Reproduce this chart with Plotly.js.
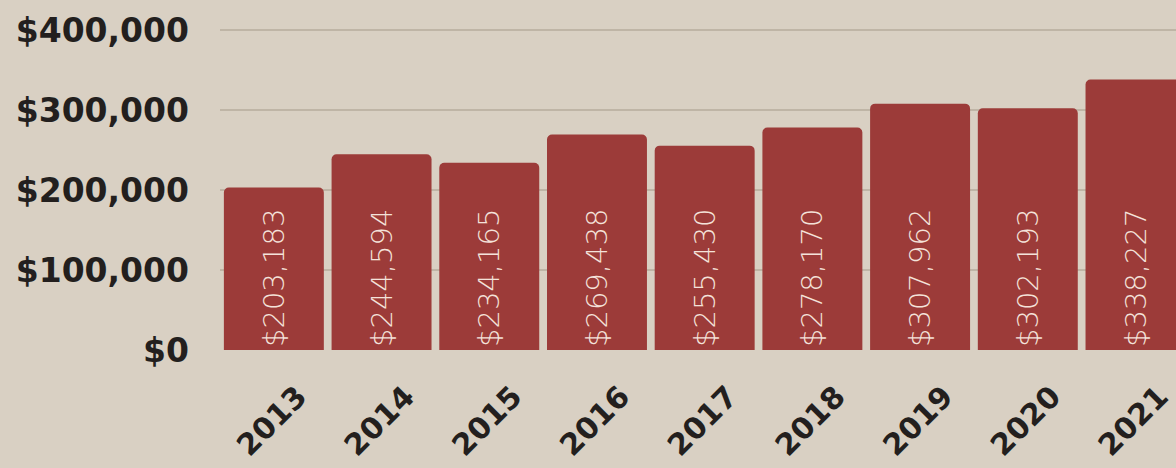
<!DOCTYPE html>
<html>
<head>
<meta charset="utf-8">
<script src="https://cdn.plot.ly/plotly-3.0.1.min.js"></script>
<style>
html,body{margin:0;padding:0;background:#d9d0c3;}
#chart{width:1176px;height:468px;}
</style>
</head>
<body>
<div id="chart"></div>
<script>
const years = ["2013","2014","2015","2016","2017","2018","2019","2020","2021"];
const values = [203183, 244594, 234165, 269438, 255430, 278170, 307962, 302193, 338227];
const yTickVals = [0, 100000, 200000, 300000, 400000];
const yTickText = ["$0", "$100,000", "$200,000", "$300,000", "$400,000"];

const labels = values.map(v => "$" + v.toLocaleString("en-US"));

const trace = {
  type: "bar",
  x: years,
  y: values,
  text: labels,
  textposition: "inside",
  insidetextanchor: "start",
  textangle: -90,
  textfont: {family: "DejaVu Sans", size: 29, color: "#f4e2da", weight: 200},
  marker: {color: "#9c3b39", cornerradius: 5},
  hoverinfo: "none"
};

const layout = {
  width: 1176,
  height: 468,
  paper_bgcolor: "#d9d0c3",
  plot_bgcolor: "#d9d0c3",
  margin: {l: 220, r: 0, t: 14, b: 118},
  bargap: 0.072,
  showlegend: false,
  xaxis: {
    type: "category",
    range: [-0.5, 8.376],
    tickangle: -45,
    tickfont: {family: "DejaVu Sans", size: 30, color: "#231f1e", weight: 700},
    showgrid: false,
    zeroline: false,
    showline: false,
    ticks: "",
    ticklabelshift: 24,
    ticklabelstandoff: 22
  },
  yaxis: {
    range: [0, 420000],
    tickvals: yTickVals,
    ticktext: yTickText,
    tickfont: {family: "DejaVu Sans", size: 33, color: "#231f1e", weight: 700},
    showgrid: true,
    gridcolor: "#bfb5a6",
    gridwidth: 1.5,
    zeroline: false,
    showline: false,
    ticks: "",
    ticklabelstandoff: 30
  }
};

Plotly.newPlot("chart", [trace], layout, {displayModeBar: false, staticPlot: true});
</script>
</body>
</html>
